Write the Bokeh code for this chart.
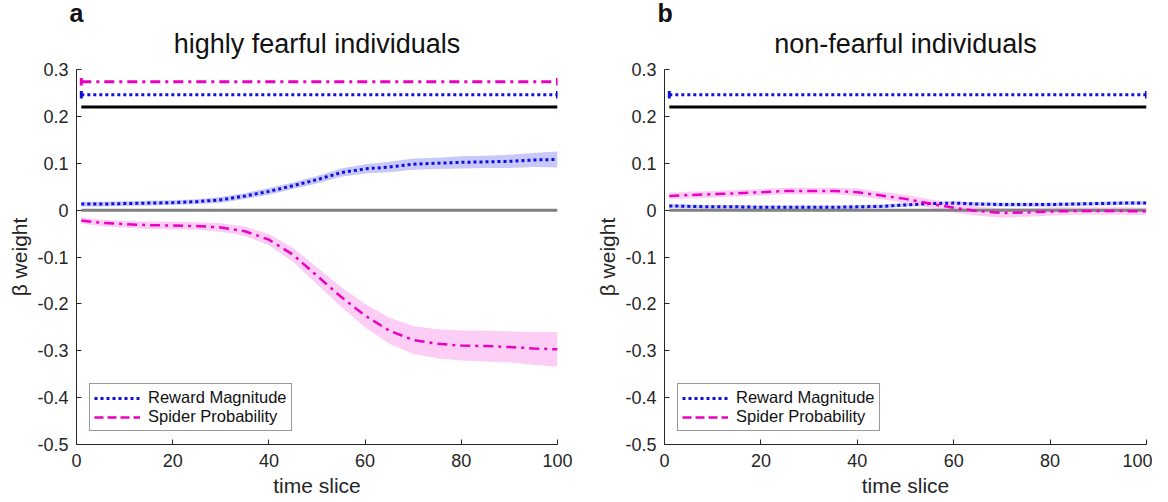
from bokeh.plotting import figure
from bokeh.models import FixedTicker, Legend, LegendItem, ColumnDataSource, Range1d, Title
from bokeh.layouts import row
from bokeh.embed import file_html
from bokeh.resources import INLINE

# ---- data ----
time_slice = [1, 5, 10, 15, 20, 25, 30, 35, 40, 45, 50, 55, 60, 65, 70, 75, 80, 85, 90, 95, 100]

rm_a = [0.013, 0.013, 0.014, 0.015, 0.016, 0.018, 0.022, 0.030, 0.040, 0.052, 0.065, 0.080, 0.088,
        0.092, 0.098, 0.100, 0.102, 0.103, 0.104, 0.107, 0.108]
rm_a_se = [0.005, 0.005, 0.005, 0.005, 0.005, 0.005, 0.006, 0.006, 0.007, 0.007, 0.008, 0.009, 0.010,
           0.011, 0.012, 0.012, 0.013, 0.013, 0.014, 0.015, 0.017]
sp_a = [-0.022, -0.027, -0.030, -0.032, -0.033, -0.034, -0.037, -0.045, -0.063, -0.095, -0.140, -0.185,
        -0.225, -0.257, -0.277, -0.285, -0.289, -0.290, -0.292, -0.295, -0.297]
sp_a_se = [0.007, 0.007, 0.007, 0.008, 0.008, 0.008, 0.009, 0.010, 0.012, 0.015, 0.018, 0.021, 0.025,
           0.028, 0.030, 0.031, 0.032, 0.033, 0.033, 0.035, 0.037]

rm_b = [0.009, 0.008, 0.007, 0.007, 0.006, 0.006, 0.006, 0.006, 0.007, 0.008, 0.011, 0.014, 0.015,
        0.013, 0.012, 0.012, 0.012, 0.013, 0.014, 0.015, 0.015]
rm_b_se = [0.004] * 21
sp_b = [0.030, 0.032, 0.034, 0.036, 0.038, 0.041, 0.041, 0.041, 0.038, 0.031, 0.024, 0.014, 0.005,
        -0.002, -0.006, -0.005, -0.003, -0.002, -0.002, -0.002, -0.003]
sp_b_se = [0.007, 0.007, 0.007, 0.007, 0.007, 0.007, 0.007, 0.007, 0.008, 0.008, 0.009, 0.009, 0.010,
           0.010, 0.010, 0.009, 0.009, 0.008, 0.008, 0.008, 0.008]

# significance / reference bars
sig_start, sig_end = 1, 100
ref_level = 0.22
sig_a_rm = 0.246
sig_a_sp = 0.274
sig_b_rm = 0.246

y_ticks = [0.3, 0.2, 0.1, 0, -0.1, -0.2, -0.3, -0.4, -0.5]
y_tick_labels = ["0.3", "0.2", "0.1", "0", "-0.1", "-0.2", "-0.3", "-0.4", "-0.5"]
x_ticks = [0, 20, 40, 60, 80, 100]

titles = ["highly fearful individuals", "non-fearful individuals"]
letters = ["a", "b"]
series_names = ["Reward Magnitude", "Spider Probability"]

BLUE = "#1010dc"
MAG = "#eb00c0"
BLUE_F = "#c8c8fa"
MAG_F = "#fcc6f4"
FONT = "Liberation Sans"
AX = "#262626"
RM_DASH = "3 3"
SP_DASH = "10 5 3 5"


def make_panel(idx, rm, rm_se, sp, sp_se, sig_bars, border_left, border_right):
    p = figure(width=576, height=502, output_backend="svg", toolbar_location=None,
               x_range=Range1d(0, 100), y_range=Range1d(-0.5, 0.3),
               min_border_left=border_left, min_border_right=border_right,
               min_border_top=69, min_border_bottom=58, title=None)
    p.grid.visible = False
    p.outline_line_color = None
    p.background_fill_color = "white"
    p.border_fill_color = "white"

    for ax in (p.xaxis, p.yaxis):
        ax.axis_line_color = AX
        ax.major_tick_line_color = AX
        ax.major_tick_in = 5
        ax.major_tick_out = 0
        ax.minor_tick_line_color = None
        ax.major_label_text_font = FONT
        ax.major_label_text_font_size = "18px"
        ax.major_label_text_color = AX
        ax.axis_label_text_font = FONT
        ax.axis_label_text_font_style = "normal"
        ax.axis_label_text_color = AX
        ax.axis_label_text_font_size = "21px"
    p.xaxis.ticker = FixedTicker(ticks=x_ticks)
    p.yaxis.ticker = FixedTicker(ticks=y_ticks)
    p.yaxis.major_label_overrides = {t: l for t, l in zip(y_ticks, y_tick_labels)}
    p.xaxis.axis_label = "time slice"
    p.xaxis.major_label_standoff = 9
    p.xaxis.axis_label_standoff = 4
    p.yaxis.axis_label = "β weight"
    p.yaxis.major_label_standoff = 8
    p.yaxis.axis_label_standoff = 3

    src = ColumnDataSource(dict(
        x=time_slice, rm=rm, sp=sp,
        rm_lo=[a - b for a, b in zip(rm, rm_se)], rm_hi=[a + b for a, b in zip(rm, rm_se)],
        sp_lo=[a - b for a, b in zip(sp, sp_se)], sp_hi=[a + b for a, b in zip(sp, sp_se)],
    ))
    p.varea(x="x", y1="rm_lo", y2="rm_hi", source=src, fill_color=BLUE_F, fill_alpha=1.0)
    p.varea(x="x", y1="sp_lo", y2="sp_hi", source=src, fill_color=MAG_F, fill_alpha=0.85)

    # zero line
    p.line([sig_start, sig_end], [0, 0], line_color="#808080", line_width=3)

    r_rm = p.line("x", "rm", source=src, line_color=BLUE, line_width=3, line_dash=RM_DASH)
    p.line("x", "sp", source=src, line_color=MAG, line_width=2.5, line_dash=SP_DASH)
    # legend sample for the second series (drawn dashed in the legend); lies outside the frame
    r_sp_leg = p.line(x=[-20, -10], y=[0, 0], line_color=MAG, line_width=2.5, line_dash="9 4")

    # reference line
    p.line([sig_start, sig_end], [ref_level, ref_level], line_color="black", line_width=3)
    # significance bars
    for level, color, dash in sig_bars:
        p.line([sig_start, sig_end], [level, level], line_color=color, line_width=3, line_dash=dash)
        p.segment(x0=[sig_start, sig_end], y0=[level - 0.008, level - 0.008],
                  x1=[sig_start, sig_end], y1=[level + 0.008, level + 0.008],
                  line_color=color, line_width=3)

    legend = Legend(items=[LegendItem(label=series_names[0], renderers=[r_rm]),
                           LegendItem(label=series_names[1], renderers=[r_sp_leg])],
                    location="bottom_left", margin=13, padding=4, spacing=0,
                    label_text_font=FONT, label_text_font_size="16.5px", label_text_color="#111111",
                    label_height=16, glyph_height=16, glyph_width=46, label_standoff=8,
                    border_line_color="#333333", border_line_width=1,
                    background_fill_alpha=1.0)
    p.add_layout(legend)

    p.add_layout(Title(text=titles[idx], align="center", text_font=FONT, text_font_size="27px",
                       text_font_style="normal", text_color="#111111", standoff=22), "above")
    p.add_layout(Title(text=letters[idx], align="left", offset=-7, text_font=FONT,
                       text_font_size="25px", text_font_style="bold", text_color="#111111",
                       standoff=-22), "above")
    return p


pa = make_panel(0, rm_a, rm_a_se, sp_a, sp_a_se,
                [(sig_a_sp, MAG, SP_DASH), (sig_a_rm, BLUE, RM_DASH)], 76, 19)
pb = make_panel(1, rm_b, rm_b_se, sp_b, sp_b_se,
                [(sig_b_rm, BLUE, RM_DASH)], 88, 6)

layout = row(pa, pb)
open("out.html", "w").write(file_html(layout, INLINE))
